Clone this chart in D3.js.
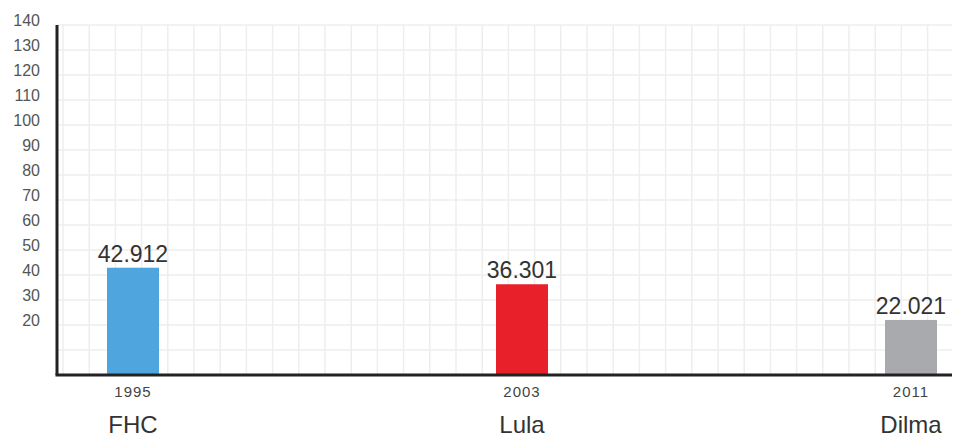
<!DOCTYPE html>
<html>
<head>
<meta charset="utf-8">
<script src="https://cdn.jsdelivr.net/npm/d3@7"></script>
<style>
  body { margin: 0; background: #fff; }
  text { font-family: Arial, "Liberation Sans", sans-serif; }
</style>
</head>
<body>
<div id="chart"></div>
<script>
// chart data
const names = ["FHC", "Lula", "Dilma"];
const years = [1995, 2003, 2011];
const values = [42.912, 36.301, 22.021];
const valueLabels = ["42.912", "36.301", "22.021"];
const colors = ["#4fa6de", "#e8202a", "#a8aaad"];
const yTicks = [20, 30, 40, 50, 60, 70, 80, 90, 100, 110, 120, 130, 140];

const width = 956;
const height = 438;
const margin = {left: 57, right: 4, top: 25, bottom: 63};

const svg = d3.select("#chart")
  .append("svg")
  .attr("width", width)
  .attr("height", height);

// scales
const yScale = d3.scaleLinear()
  .domain([0, 140])
  .range([height - margin.bottom, margin.top]);

const xScale = d3.scaleLinear()
  .domain([1995, 2011])
  .range([133, 911]);

const barWidth = 52;

// graph paper grid
const grid = svg.append("g").attr("stroke", "#eeeeee").attr("stroke-width", 1.5);

grid.selectAll(".hgrid")
  .data(d3.range(10, 141, 10))
  .enter()
  .append("line")
    .attr("x1", margin.left)
    .attr("x2", width - margin.right)
    .attr("y1", d => yScale(d))
    .attr("y2", d => yScale(d));

grid.selectAll(".vgrid")
  .data(d3.range(63, width - margin.right, 26.2))
  .enter()
  .append("line")
    .attr("x1", d => d)
    .attr("x2", d => d)
    .attr("y1", margin.top)
    .attr("y2", height - margin.bottom);

// y labels (no tick marks, sit a little above grid lines)
svg.append("g")
  .selectAll("text")
  .data(yTicks)
  .enter()
  .append("text")
    .attr("x", 40)
    .attr("y", d => yScale(d) - 5)
    .attr("dy", "0.35em")
    .attr("text-anchor", "end")
    .attr("font-size", "16px")
    .attr("fill", "#555")
    .text(d => d);

// bars
svg.selectAll(".bar")
  .data(values)
  .enter()
  .append("rect")
    .attr("class", "bar")
    .attr("x", (d, i) => xScale(years[i]) - barWidth / 2)
    .attr("y", d => yScale(d))
    .attr("width", barWidth)
    .attr("height", d => yScale(0) - yScale(d))
    .attr("fill", (d, i) => colors[i]);

// value labels
svg.selectAll(".val")
  .data(values)
  .enter()
  .append("text")
    .attr("x", (d, i) => xScale(years[i]))
    .attr("y", d => yScale(d) - 6)
    .attr("text-anchor", "middle")
    .attr("font-size", "23px")
    .attr("fill", "#333")
    .text((d, i) => valueLabels[i]);

// axes lines
svg.append("line")
  .attr("x1", margin.left).attr("x2", margin.left)
  .attr("y1", margin.top).attr("y2", yScale(0))
  .attr("stroke", "#222").attr("stroke-width", 3);

svg.append("line")
  .attr("x1", margin.left - 1.5).attr("x2", width - margin.right)
  .attr("y1", yScale(0)).attr("y2", yScale(0))
  .attr("stroke", "#222").attr("stroke-width", 3);

// year labels
svg.selectAll(".year")
  .data(years)
  .enter()
  .append("text")
    .attr("x", d => xScale(d))
    .attr("y", 397)
    .attr("text-anchor", "middle")
    .attr("font-size", "15px")
    .attr("letter-spacing", "1px")
    .attr("fill", "#444")
    .text(d => d);

// president names
svg.selectAll(".name")
  .data(names)
  .enter()
  .append("text")
    .attr("x", (d, i) => xScale(years[i]))
    .attr("y", 433)
    .attr("text-anchor", "middle")
    .attr("font-size", "24px")
    .attr("fill", "#333")
    .text(d => d);
</script>
</body>
</html>
